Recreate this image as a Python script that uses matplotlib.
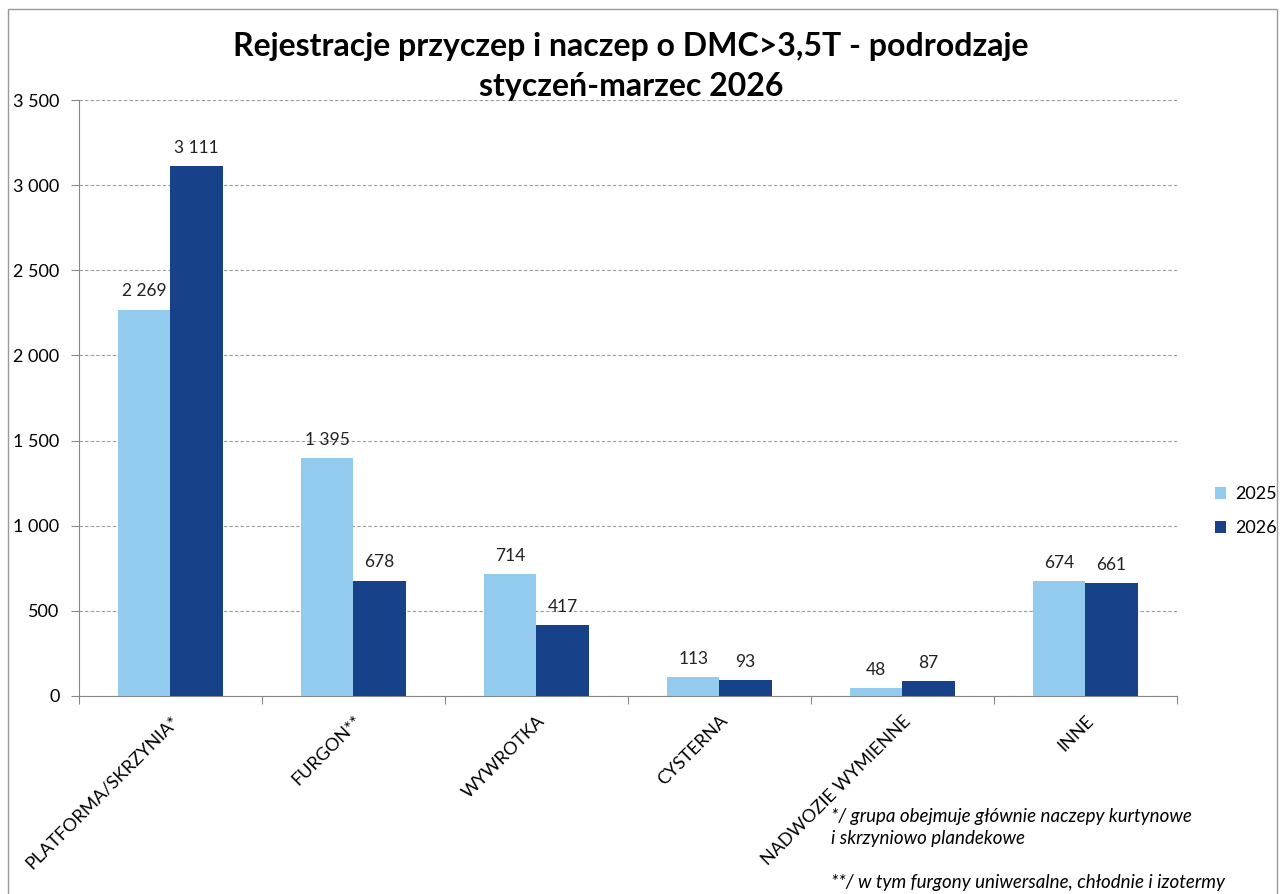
import numpy as np
import matplotlib
matplotlib.use("Agg")
import matplotlib.pyplot as plt
from matplotlib.patches import Rectangle

plt.rcParams["font.family"] = ["Lato", "DejaVu Sans"]

kategorie = ["PLATFORMA/SKRZYNIA*", "FURGON**", "WYWROTKA", "CYSTERNA",
             "NADWOZIE WYMIENNE", "INNE"]
lata = ["2025", "2026"]
wart_2025 = [2269, 1395, 714, 113, 48, 674]
wart_2026 = [3111, 678, 417, 93, 87, 661]
kolory = ["#93CBEE", "#17428A"]


def fmt(v):
    return f"{v:,}".replace(",", " ")


fig = plt.figure(figsize=(12.82, 8.94), dpi=100)
ax = fig.add_axes([0.0616, 0.2215, 0.918 - 0.0616, 0.888 - 0.2215])

x = np.arange(len(kategorie))
w = 0.285
b1 = ax.bar(x - w / 2, wart_2025, w, color=kolory[0], label=lata[0], zorder=3)
b2 = ax.bar(x + w / 2, wart_2026, w, color=kolory[1], label=lata[1], zorder=3)

for bars, vals in [(b1, wart_2025), (b2, wart_2026)]:
    for r, v in zip(bars, vals):
        ax.text(r.get_x() + r.get_width() / 2, v + 60, fmt(v),
                ha="center", va="bottom", fontsize=12.5, color="#222222")

ax.set_xlim(-0.5, len(kategorie) - 0.5)
ax.set_ylim(0, 3500)
ax.set_yticks(np.arange(0, 3501, 500))
ax.set_yticklabels([fmt(v) for v in range(0, 3501, 500)], fontsize=13)
ax.yaxis.grid(True, linestyle=(0, (3, 2)), color="#9a9a9a", linewidth=0.8, zorder=0)

# kreski osi x między kategoriami
ax.set_xticks(np.arange(-0.5, len(kategorie), 1.0))
ax.set_xticklabels([])
ax.tick_params(axis="x", length=6, color="#888888")
ax.tick_params(axis="y", length=6, color="#888888", pad=8)
ax.set_xticks(x, minor=True)
ax.set_xticklabels(kategorie, minor=True, rotation=45, ha="right",
                   rotation_mode="anchor", fontsize=13)
ax.tick_params(axis="x", which="minor", length=0, pad=12)

for s in ["top", "right"]:
    ax.spines[s].set_visible(False)
ax.spines["left"].set_color("#888888")
ax.spines["bottom"].set_color("#888888")

fig.text(0.492, 0.948, "Rejestracje przyczep i naczep o DMC>3,5T - podrodzaje",
         ha="center", va="center", fontsize=23, fontweight="bold")
fig.text(0.492, 0.903, "styczeń-marzec 2026",
         ha="center", va="center", fontsize=23, fontweight="bold")

fig.legend(handles=[b1, b2], labels=lata, loc="center left",
           bbox_to_anchor=(0.935, 0.428), frameon=False, fontsize=13,
           handlelength=0.6, handleheight=0.6, labelspacing=1.0, handletextpad=0.5)

fig.text(0.648, 0.074, "*/ grupa obejmuje głównie naczepy kurtynowe\ni skrzyniowo plandekowe",
         ha="left", va="center", fontsize=13.5, style="italic", linespacing=1.35)
fig.text(0.648, 0.013, "**/ w tym furgony uniwersalne, chłodnie i izotermy",
         ha="left", va="center", fontsize=13.5, style="italic")

fig.patches.append(Rectangle((0.006, -0.01), 0.99, 1.0, transform=fig.transFigure,
                             fill=False, edgecolor="#999999", linewidth=1))

fig.savefig("out.png", dpi=100)
